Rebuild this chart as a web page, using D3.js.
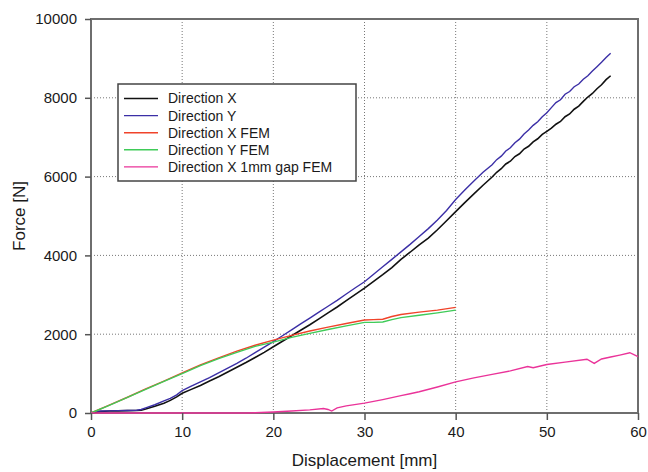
<!DOCTYPE html>
<html>
<head>
<meta charset="utf-8">
<script src="https://cdn.jsdelivr.net/npm/d3@7"></script>
<style>
  body { margin: 0; background: #fff; }
  text { font-family: "Liberation Sans", Arial, sans-serif; fill: #1a1a1a; }
</style>
</head>
<body>
<script>
// force vs displacement readings, [mm, N]
var dirX = [[0,0],[1,40],[2,50],[3,55],[4,60],[5,65],[5.5,70],[6,100],[7,170],[8,250],[8.7,320],[9.4,410],[10,500],
  [11,600],[12,700],[13,810],[14,920],[15,1040],[16,1160],[17,1280],[18,1410],[19,1540],[20,1680],[21,1820],[22,1960],
  [23,2100],[24,2240],[25,2390],[26,2540],[27,2690],[28,2850],[29,3010],[30,3170],[31,3340],[32,3510],[33,3690],[34,3900],
  [35,4080],[36,4270],[37,4440],[38,4650],[39,4880],[40,5110],[41,5340],[42,5560],[43,5780],[44,5990],[44.5,6110],[45,6200],
  [45.5,6320],[46,6390],[46.5,6510],[47,6580],[47.5,6700],[48,6770],[48.5,6880],[49,6960],[49.5,7070],[50,7150],[50.5,7230],
  [51,7330],[51.5,7400],[52,7520],[52.5,7590],[53,7710],[53.5,7790],[54,7910],[54.5,8020],[55,8110],[55.5,8230],[56,8330],
  [56.5,8460],[57,8560]];

var dirY = [[0,0],[0.5,40],[1,50],[2,55],[3,60],[4,65],[5,70],[5.5,90],[6,130],[7,210],[8,310],[8.7,370],[9.4,460],[10,570],
  [11,680],[12,790],[13,900],[14,1020],[15,1140],[16,1260],[17,1390],[18,1530],[19,1670],[20,1810],[21,1960],[22,2110],
  [23,2260],[24,2410],[25,2560],[26,2710],[27,2860],[28,3020],[29,3180],[30,3330],[31,3520],[32,3710],[33,3900],[34,4090],
  [35,4280],[36,4480],[37,4680],[38,4900],[39,5140],[40,5420],[41,5660],[42,5890],[43,6110],[44,6300],[44.5,6430],[45,6520],
  [45.5,6650],[46,6730],[46.5,6860],[47,6950],[47.5,7080],[48,7180],[48.5,7300],[49,7390],[49.5,7520],[50,7620],[50.5,7750],
  [51,7880],[51.5,7950],[52,8090],[52.5,8160],[53,8280],[53.5,8350],[54,8470],[54.5,8560],[55,8680],[55.5,8790],[56,8900],
  [56.5,9020],[57,9130]];

var dirXFem = [[0,0],[2,200],[4,400],[6,610],[8,810],[10,1020],[12,1220],[14,1400],[16,1570],[18,1720],[20,1850],
  [22,1970],[24,2080],[26,2180],[28,2270],[30,2360],[31,2370],[32,2380],[33,2450],[34,2500],[36,2560],[38,2610],[40,2680]];

var dirYFem = [[0,0],[2,195],[4,395],[6,600],[8,800],[10,1000],[12,1200],[14,1380],[16,1540],[18,1690],[20,1800],
  [22,1920],[24,2020],[26,2120],[28,2210],[30,2300],[31,2300],[32,2310],[33,2370],[34,2420],[36,2480],[38,2540],[40,2610]];

var dirXGapFem = [[0,0],[17,0],[18,5],[20,25],[22,50],[24,80],[25.5,115],[26,90],[26.4,50],[27,130],[28,180],[30,250],
  [32,340],[34,440],[35,490],[36,540],[38,660],[40,790],[42,890],[44,980],[46,1070],[47.9,1180],[48.5,1150],[50,1230],
  [52,1290],[54.4,1365],[55.2,1260],[56,1370],[57,1420],[58,1470],[59.1,1530],[60,1430]];

var seriesNames = ["Direction X", "Direction Y", "Direction X FEM", "Direction Y FEM", "Direction X 1mm gap FEM"];
var seriesColors = ["#111111", "#3b2fa6", "#f0432a", "#3fcb58", "#ea3399"];
var xTicks = [0, 10, 20, 30, 40, 50, 60];
var yTicks = [0, 2000, 4000, 6000, 8000, 10000];

var allSeries = [dirX, dirY, dirXFem, dirYFem, dirXGapFem];

var margin = {top: 19, right: 10, bottom: 59, left: 91},
    width = 648 - margin.left - margin.right,
    height = 472 - margin.top - margin.bottom;

var svg = d3.select("body").append("svg")
    .attr("width", 648)
    .attr("height", 472);

var g = svg.append("g")
    .attr("transform", "translate(" + margin.left + "," + margin.top + ")");

var x = d3.scaleLinear().domain([0, 60]).range([0, width]);
var y = d3.scaleLinear().domain([0, 10000]).range([height, 0]);

// dotted grid
g.append("g").selectAll("line")
    .data(xTicks.slice(1, -1))
  .enter().append("line")
    .attr("x1", function(d) { return x(d); })
    .attr("x2", function(d) { return x(d); })
    .attr("y1", 0).attr("y2", height)
    .style("stroke", "#777").style("stroke-width", 1)
    .style("stroke-dasharray", "1,2");

g.append("g").selectAll("line")
    .data(yTicks.slice(1, -1))
  .enter().append("line")
    .attr("y1", function(d) { return y(d); })
    .attr("y2", function(d) { return y(d); })
    .attr("x1", 0).attr("x2", width)
    .style("stroke", "#777").style("stroke-width", 1)
    .style("stroke-dasharray", "1,2");

// frame
g.append("rect")
    .attr("width", width).attr("height", height)
    .style("fill", "none")
    .style("stroke", "#6e6e6e")
    .style("stroke-width", 2);

var line = d3.line()
    .x(function(d) { return x(d[0]); })
    .y(function(d) { return y(d[1]); });

g.append("g").selectAll("path")
    .data(allSeries)
  .enter().append("path")
    .attr("d", line)
    .style("fill", "none")
    .style("stroke", function(d, i) { return seriesColors[i]; })
    .style("stroke-width", function(d, i) { return i === 0 ? 1.6 : 1.4; });

var xAxis = g.append("g")
    .attr("transform", "translate(0," + height + ")")
    .call(d3.axisBottom(x).tickValues(xTicks).tickSize(7).tickPadding(6));

var yAxis = g.append("g")
    .call(d3.axisLeft(y).tickValues(yTicks).tickFormat(d3.format("d")).tickSize(6).tickPadding(8));

[xAxis, yAxis].forEach(function(a) {
  a.select(".domain").remove();
  a.selectAll(".tick line").style("stroke", "#555").style("stroke-width", 1.5);
  a.selectAll(".tick text")
    .style("font-size", "15px")
    .style("font-family", "'Liberation Sans', Arial, sans-serif")
    .style("fill", "#1a1a1a");
});

// axis titles
svg.append("text")
    .attr("x", margin.left + width / 2)
    .attr("y", 466)
    .attr("text-anchor", "middle")
    .style("font-size", "17px")
    .text("Displacement [mm]");

svg.append("text")
    .attr("transform", "translate(25," + (margin.top + height / 2) + ") rotate(-90)")
    .attr("text-anchor", "middle")
    .style("font-size", "17px")
    .text("Force [N]");

// legend
var legend = svg.append("g").attr("transform", "translate(118,84)");

legend.append("rect")
    .attr("width", 238).attr("height", 97)
    .style("fill", "#fff")
    .style("stroke", "#444")
    .style("stroke-width", 1.5);

var items = legend.selectAll(".item")
    .data(seriesNames)
  .enter().append("g")
    .attr("class", "item")
    .attr("transform", function(d, i) { return "translate(0," + (14.5 + i * 17.1) + ")"; });

items.append("line")
    .attr("x1", 6).attr("x2", 40)
    .style("stroke", function(d, i) { return seriesColors[i]; })
    .style("stroke-width", 1.4);

items.append("text")
    .attr("x", 50)
    .attr("dy", "0.35em")
    .style("font-size", "14px")
    .text(function(d) { return d; });
</script>
</body>
</html>
